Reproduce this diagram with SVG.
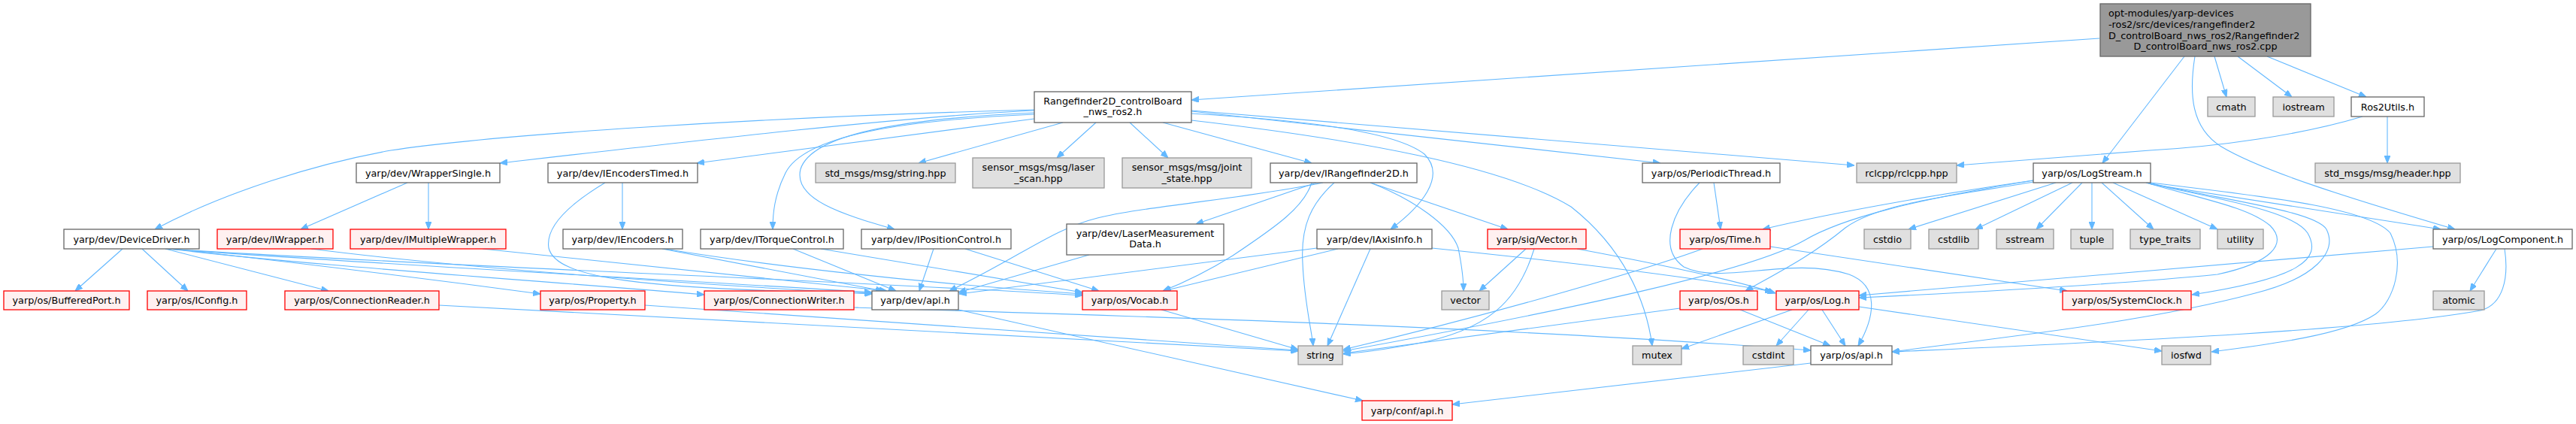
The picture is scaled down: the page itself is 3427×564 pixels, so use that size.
<svg xmlns="http://www.w3.org/2000/svg" width="3427" height="564" viewBox="0 0 3427 564">
<defs>
<style>
.w{fill:#ffffff;stroke:#666666;stroke-width:1.3}
.g{fill:#e0e0e0;stroke:#999999;stroke-width:1.3}
.r{fill:#fff0f0;stroke:#ff0000;stroke-width:1.3}
.rt{fill:#999999;stroke:#666666;stroke-width:1.3}
text{font-family:"DejaVu Sans",sans-serif;font-size:12.8px;fill:#000;text-anchor:middle}
text.l{text-anchor:start}
#edges path{fill:none;stroke:#63b8ff;stroke-width:1.1;marker-end:url(#ah)}
</style>
<marker id="ah" viewBox="0 0 10 8" refX="10" refY="4" markerWidth="10" markerHeight="8" orient="auto" markerUnits="userSpaceOnUse"><path d="M0,0L10,4L0,8z" fill="#63b8ff" stroke="#63b8ff"/></marker>
</defs>
<rect width="3427" height="564" fill="#fff"/>
<g id="edges">
<path d="M2793,51 L1585,133"/>
<path d="M2946,75 L2962,129"/>
<path d="M2977,75 L3049,129"/>
<path d="M3016,75 L3148,129"/>
<path d="M2906,75 L2797,217"/>
<path d="M2920,75 C2912,125 2915,170 2955,195 C3010,228 3130,265 3266,305"/>
<path d="M3143,155 C3060,180 2950,195 2860,200 L2603,220"/>
<path d="M3176,155 L3176,217"/>
<path d="M1376,147 C1200,155 900,190 665,217"/>
<path d="M1376,146 C1000,156 650,180 520,200 C420,218 300,255 206,305"/>
<path d="M1376,158 L927,217"/>
<path d="M1414,163 L1222,217"/>
<path d="M1458,163 L1406,210"/>
<path d="M1503,163 L1554,210"/>
<path d="M1547,163 L1745,217"/>
<path d="M1585,148 L2209,217"/>
<path d="M1585,147 L2467,220"/>
<path d="M1585,151 C1700,158 1850,170 1895,205 C1925,235 1890,275 1850,305"/>
<path d="M1376,152 C1200,160 1070,180 1045,230 C1030,260 1028,285 1028,305"/>
<path d="M1376,150 C1200,158 1080,178 1065,225 C1055,265 1120,285 1190,305"/>
<path d="M1585,160 C1800,185 2000,220 2090,275 C2160,330 2190,400 2198,460"/>
<path d="M542,243 L400,305"/>
<path d="M570,243 L570,305"/>
<path d="M828,243 L828,305"/>
<path d="M805,243 C760,270 725,300 730,330 C740,370 850,385 1160,390"/>
<path d="M1775,243 C1745,270 1730,300 1733,350 C1735,400 1745,440 1747,460"/>
<path d="M1823,243 C1880,265 1930,300 1940,330 C1945,355 1947,375 1947,387"/>
<path d="M1823,243 L2006,305"/>
<path d="M1751,243 L1591,298"/>
<path d="M1760,243 C1650,265 1520,275 1460,290 C1400,305 1360,340 1263,387"/>
<path d="M1745,243 C1735,275 1700,300 1640,340 C1600,365 1570,378 1547,387"/>
<path d="M1449,339 L1275,389"/>
<path d="M1752,330 L1276,391"/>
<path d="M1780,331 L1548,387"/>
<path d="M1823,331 L1766,460"/>
<path d="M1905,330 C2100,350 2250,368 2358,388"/>
<path d="M2030,331 L1968,387"/>
<path d="M2041,331 C2020,400 1980,440 1880,458 C1840,465 1810,469 1787,471"/>
<path d="M2098,331 C2200,350 2300,370 2362,390"/>
<path d="M2355,328 L2750,387"/>
<path d="M2265,331 C2200,355 2000,415 1787,465"/>
<path d="M2235,410 L1787,470"/>
<path d="M2315,412 L2435,460"/>
<path d="M2406,412 L2363,460"/>
<path d="M2424,412 L2455,460"/>
<path d="M2384,412 L2237,464"/>
<path d="M2473,408 L2876,467"/>
<path d="M2280,243 L2289,305"/>
<path d="M2261,243 C2225,280 2205,330 2240,355 C2290,380 2380,340 2460,365 C2500,380 2495,420 2472,460"/>
<path d="M2705,240 C2600,255 2450,280 2345,305"/>
<path d="M2705,242 C2600,260 2500,270 2455,303 C2410,340 2370,360 2322,387"/>
<path d="M2705,240 C2550,265 2450,290 2400,320 C2330,360 2100,410 1787,467"/>
<path d="M2735,243 L2539,305"/>
<path d="M2757,243 L2628,305"/>
<path d="M2770,243 L2709,305"/>
<path d="M2783,243 L2783,305"/>
<path d="M2796,243 L2865,305"/>
<path d="M2811,243 L2950,305"/>
<path d="M2861,245 L3247,305"/>
<path d="M2855,243 C2930,265 2990,275 3020,300 C3045,325 3020,350 2950,365 C2800,380 2600,390 2473,396"/>
<path d="M2855,243 C2950,265 3050,280 3070,310 C3090,345 3060,370 2916,392"/>
<path d="M2858,243 C2950,265 3080,280 3095,305 C3110,335 3080,370 3000,390 C2850,430 2650,450 2517,468"/>
<path d="M2861,243 C3000,260 3150,275 3180,310 C3200,350 3185,400 3160,418 C3120,445 3020,458 2942,468"/>
<path d="M3321,331 L3286,387"/>
<path d="M3237,328 L2473,393"/>
<path d="M3332,331 C3338,370 3330,405 3300,413 C3150,440 2800,455 2517,468"/>
<path d="M2409,483 L1932,538"/>
<path d="M1275,412 L1813,533"/>
<path d="M1545,412 L1727,465"/>
<path d="M163,331 L100,387"/>
<path d="M189,331 L250,387"/>
<path d="M220,331 L437,387"/>
<path d="M229,331 C400,350 600,375 719,391"/>
<path d="M225,331 C400,352 700,372 937,392"/>
<path d="M222,331 C500,352 900,372 1160,389"/>
<path d="M220,331 C600,355 1100,372 1440,393"/>
<path d="M414,331 C600,355 900,377 1160,391"/>
<path d="M642,331 L1180,387"/>
<path d="M881,331 L1175,387"/>
<path d="M884,331 C1000,350 1200,375 1440,391"/>
<path d="M1055,331 L1192,387"/>
<path d="M1092,331 L1440,389"/>
<path d="M1242,331 L1223,387"/>
<path d="M1284,331 L1462,387"/>
<path d="M584,406 L1727,467"/>
<path d="M858,406 C1200,430 1500,450 1727,466"/>
<path d="M1136,409 C1500,420 2000,435 2409,466"/>
</g>
<g id="n_root"><rect class="rt" x="2794" y="5" width="280" height="70"/><text class="l" x="2805" y="21.5">opt-modules/yarp-devices</text><text class="l" x="2805" y="36.5">-ros2/src/devices/rangefinder2</text><text class="l" x="2805" y="51.5">D_controlBoard_nws_ros2/Rangefinder2</text><text x="2934" y="66">D_controlBoard_nws_ros2.cpp</text></g>
<g id="n_rf"><rect class="w" x="1376" y="122" width="209" height="41"/><text x="1480.5" y="139">Rangefinder2D_controlBoard</text><text x="1480.5" y="153">_nws_ros2.h</text></g>
<g id="n_cmath"><rect class="g" x="2937" y="129" width="63" height="26"/><text x="2968.5" y="146.5">cmath</text></g>
<g id="n_iostream"><rect class="g" x="3024" y="129" width="81" height="26"/><text x="3064.5" y="146.5">iostream</text></g>
<g id="n_ros2utils"><rect class="w" x="3128" y="129" width="97" height="26"/><text x="3176.5" y="146.5">Ros2Utils.h</text></g>
<g id="n_wrapsingle"><rect class="w" x="474" y="217" width="191" height="26"/><text x="569.5" y="234.6">yarp/dev/WrapperSingle.h</text></g>
<g id="n_enctimed"><rect class="w" x="729" y="217" width="199" height="26"/><text x="828.5" y="234.6">yarp/dev/IEncodersTimed.h</text></g>
<g id="n_stringhpp"><rect class="g" x="1085" y="217" width="186" height="26"/><text x="1178" y="234.6">std_msgs/msg/string.hpp</text></g>
<g id="n_laser"><rect class="g" x="1294" y="210" width="175" height="40"/><text x="1381.5" y="227">sensor_msgs/msg/laser</text><text x="1381.5" y="241.5">_scan.hpp</text></g>
<g id="n_joint"><rect class="g" x="1493" y="210" width="172" height="40"/><text x="1579" y="227">sensor_msgs/msg/joint</text><text x="1579" y="241.5">_state.hpp</text></g>
<g id="n_irange"><rect class="w" x="1690" y="217" width="195" height="26"/><text x="1787.5" y="234.6">yarp/dev/IRangefinder2D.h</text></g>
<g id="n_periodic"><rect class="w" x="2185" y="217" width="183" height="26"/><text x="2276.5" y="234.6">yarp/os/PeriodicThread.h</text></g>
<g id="n_rclcpp"><rect class="g" x="2470" y="217" width="133" height="26"/><text x="2536.5" y="234.6">rclcpp/rclcpp.hpp</text></g>
<g id="n_logstream"><rect class="w" x="2705" y="217" width="156" height="26"/><text x="2783" y="234.6">yarp/os/LogStream.h</text></g>
<g id="n_header"><rect class="g" x="3080" y="217" width="193" height="26"/><text x="3176.5" y="234.6">std_msgs/msg/header.hpp</text></g>
<g id="n_devdriver"><rect class="w" x="85" y="305" width="180" height="26"/><text x="175" y="322.6">yarp/dev/DeviceDriver.h</text></g>
<g id="n_iwrapper"><rect class="r" x="289" y="305" width="154" height="26"/><text x="366" y="322.6">yarp/dev/IWrapper.h</text></g>
<g id="n_imulti"><rect class="r" x="466" y="305" width="207" height="26"/><text x="569.5" y="322.6">yarp/dev/IMultipleWrapper.h</text></g>
<g id="n_iencoders"><rect class="w" x="749" y="305" width="159" height="26"/><text x="828.5" y="322.6">yarp/dev/IEncoders.h</text></g>
<g id="n_itorque"><rect class="w" x="932" y="305" width="190" height="26"/><text x="1027" y="322.6">yarp/dev/ITorqueControl.h</text></g>
<g id="n_ipos"><rect class="w" x="1146" y="305" width="199" height="26"/><text x="1245.5" y="322.6">yarp/dev/IPositionControl.h</text></g>
<g id="n_laserdata"><rect class="w" x="1419" y="298" width="209" height="41"/><text x="1523.5" y="315.3">yarp/dev/LaserMeasurement</text><text x="1523.5" y="329">Data.h</text></g>
<g id="n_iaxis"><rect class="w" x="1752" y="305" width="153" height="26"/><text x="1828.5" y="322.6">yarp/dev/IAxisInfo.h</text></g>
<g id="n_vector_h"><rect class="r" x="1979" y="305" width="131" height="26"/><text x="2044.5" y="322.6">yarp/sig/Vector.h</text></g>
<g id="n_time"><rect class="r" x="2235" y="305" width="120" height="26"/><text x="2295" y="322.6">yarp/os/Time.h</text></g>
<g id="n_cstdio"><rect class="g" x="2480" y="305" width="62" height="26"/><text x="2511" y="322.6">cstdio</text></g>
<g id="n_cstdlib"><rect class="g" x="2566" y="305" width="66" height="26"/><text x="2599" y="322.6">cstdlib</text></g>
<g id="n_sstream"><rect class="g" x="2656" y="305" width="76" height="26"/><text x="2694" y="322.6">sstream</text></g>
<g id="n_tuple"><rect class="g" x="2755" y="305" width="56" height="26"/><text x="2783" y="322.6">tuple</text></g>
<g id="n_typetraits"><rect class="g" x="2834" y="305" width="93" height="26"/><text x="2880.5" y="322.6">type_traits</text></g>
<g id="n_utility"><rect class="g" x="2950" y="305" width="61" height="26"/><text x="2980.5" y="322.6">utility</text></g>
<g id="n_logcomp"><rect class="w" x="3237" y="305" width="185" height="26"/><text x="3329.5" y="322.6">yarp/os/LogComponent.h</text></g>
<g id="n_bufport"><rect class="r" x="5" y="387" width="167" height="25"/><text x="88.5" y="404">yarp/os/BufferedPort.h</text></g>
<g id="n_iconfig"><rect class="r" x="196" y="387" width="132" height="25"/><text x="262" y="404">yarp/os/IConfig.h</text></g>
<g id="n_connreader"><rect class="r" x="379" y="387" width="205" height="25"/><text x="481.5" y="404">yarp/os/ConnectionReader.h</text></g>
<g id="n_property"><rect class="r" x="719" y="387" width="139" height="25"/><text x="788.5" y="404">yarp/os/Property.h</text></g>
<g id="n_connwriter"><rect class="r" x="937" y="387" width="199" height="25"/><text x="1036.5" y="404">yarp/os/ConnectionWriter.h</text></g>
<g id="n_devapi"><rect class="w" x="1160" y="387" width="115" height="25"/><text x="1217.5" y="404">yarp/dev/api.h</text></g>
<g id="n_vocab"><rect class="r" x="1440" y="387" width="126" height="25"/><text x="1503" y="404">yarp/os/Vocab.h</text></g>
<g id="n_vector"><rect class="g" x="1918" y="387" width="63" height="25"/><text x="1949.5" y="404">vector</text></g>
<g id="n_os"><rect class="r" x="2235" y="387" width="103" height="25"/><text x="2286.5" y="404">yarp/os/Os.h</text></g>
<g id="n_log"><rect class="r" x="2363" y="387" width="110" height="25"/><text x="2418" y="404">yarp/os/Log.h</text></g>
<g id="n_sysclock"><rect class="r" x="2744" y="387" width="171" height="25"/><text x="2829.5" y="404">yarp/os/SystemClock.h</text></g>
<g id="n_atomic"><rect class="g" x="3237" y="387" width="68" height="25"/><text x="3271" y="404">atomic</text></g>
<g id="n_string"><rect class="g" x="1727" y="460" width="59" height="25"/><text x="1756.5" y="477">string</text></g>
<g id="n_mutex"><rect class="g" x="2172" y="460" width="65" height="25"/><text x="2204.5" y="477">mutex</text></g>
<g id="n_cstdint"><rect class="g" x="2319" y="460" width="67" height="25"/><text x="2352.5" y="477">cstdint</text></g>
<g id="n_osapi"><rect class="w" x="2409" y="460" width="108" height="25"/><text x="2463" y="477">yarp/os/api.h</text></g>
<g id="n_iosfwd"><rect class="g" x="2876" y="460" width="65" height="25"/><text x="2908.5" y="477">iosfwd</text></g>
<g id="n_confapi"><rect class="r" x="1812" y="533" width="120" height="26"/><text x="1872" y="550.5">yarp/conf/api.h</text></g>
</svg>
